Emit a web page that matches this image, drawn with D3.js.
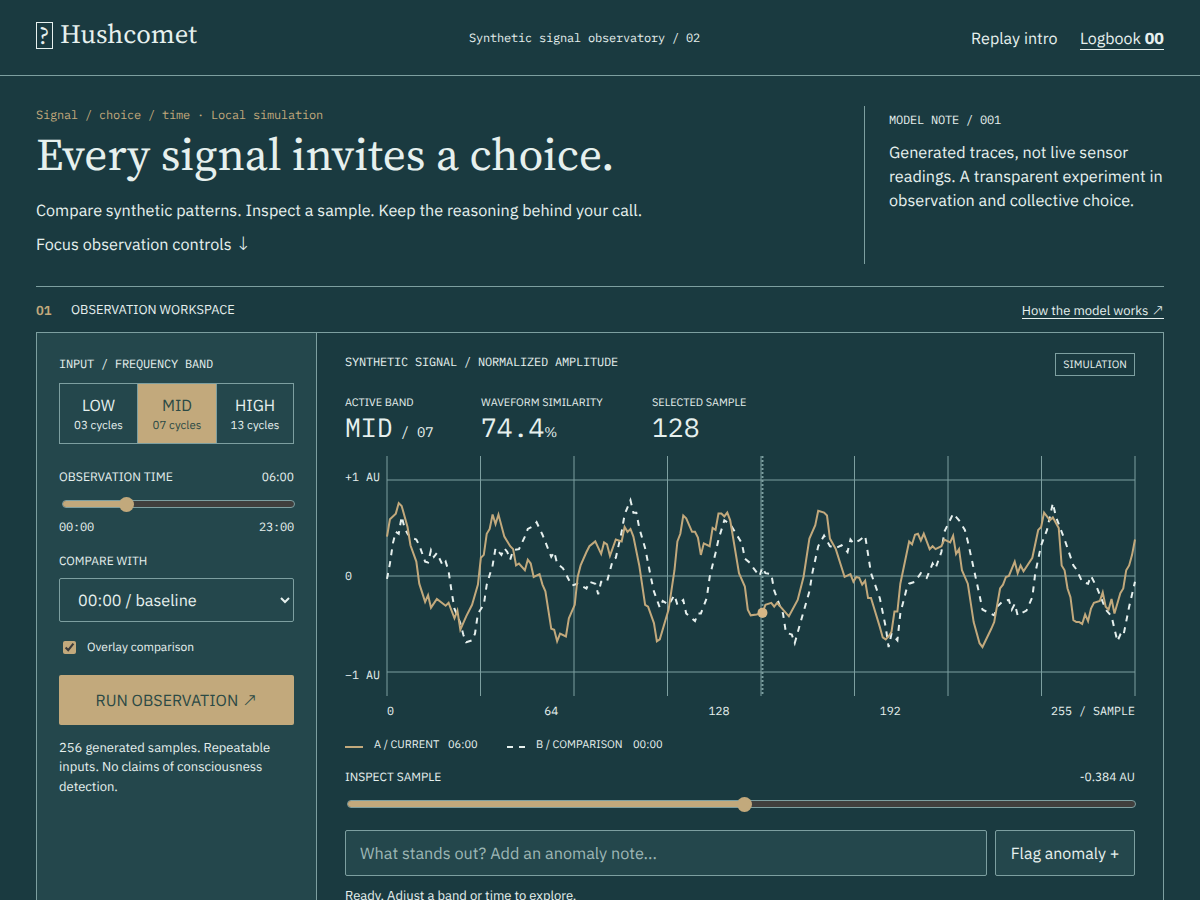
<!DOCTYPE html>
<html>
<head>
<meta charset="utf-8">
<title>Hushcomet</title>
<script src="https://cdn.jsdelivr.net/npm/d3@7"></script>
<style>
  * { box-sizing: border-box; }
  html, body { margin: 0; height: 900px; overflow: hidden; background: #1a3a40; }
  body { position: relative; color: #e6f0ee; font-family: "IBM Plex Sans", "Noto Sans", sans-serif; text-rendering: geometricPrecision; }
  .t { position: absolute; white-space: nowrap; line-height: 1; margin-top: 1px; }
  .mono { font-family: "IBM Plex Mono", "Liberation Mono", monospace; font-size: 12px; letter-spacing: -0.2px; }
  .serif { font-family: "Source Serif 4", "Liberation Serif", serif; }
  .arrow { font-family: "DejaVu Sans", sans-serif; font-weight: 300; font-size: 1.15em; line-height: 0; }
  .rule { position: absolute; background: #7d9fa0; }
  .box { position: absolute; border: 1px solid #7d9fa0; }
  .center { display: flex; flex-direction: column; align-items: center; justify-content: center; }
  .shift { padding-top: 2px; }
  #plot, #xlabels, #ylabels { position: absolute; }
  #xlabels { left: 387px; top: 706px; width: 748px; display: flex; justify-content: space-between; }
  #ylabels { left: 345px; top: 472px; height: 210px; display: flex; flex-direction: column; justify-content: space-between; }
  #xlabels span, #ylabels span { font: 11.67px/12px "IBM Plex Mono", "Liberation Mono", monospace; color: #e6f0ee; white-space: nowrap; }
  .track { position: absolute; height: 8px; border: 1px solid #7d9fa0; border-radius: 4px; background: #403f3d; overflow: hidden; }
  .track div { height: 100%; background: #c2a97c; }
  .thumb { position: absolute; border-radius: 50%; background: #c2a97c; }
  select { position: absolute; left: 59px; top: 578px; width: 235px; height: 44px; padding: 1px 14px 0; border: 1px solid #7d9fa0; border-radius: 2px;
    background: #24474c; color: #e6f0ee; font: 16.2px "IBM Plex Sans", "Noto Sans", sans-serif; text-rendering: geometricPrecision; }
  input[type=checkbox] { position: absolute; left: 63px; top: 641px; width: 13px; height: 13px; margin: 0; accent-color: #c2a97c; }
  input[type=text] { position: absolute; left: 345px; top: 830px; width: 642px; height: 46px; padding: 0 14px; border: 1px solid #7d9fa0; border-radius: 2px;
    background: #24474c; color: #e6f0ee; font: 16.25px "IBM Plex Sans", "Noto Sans", sans-serif; text-rendering: geometricPrecision; }
  input[type=text]::placeholder { color: #9db6b5; opacity: 1; }
</style>
</head>
<body>

<!-- header -->
<div class="t" style="left:36px;top:21px;width:17px;height:27px;border:1.5px solid #e6f0ee"></div>
<div class="t serif" style="left:39px;top:23px;font-size:25px">?</div>
<div class="t serif" style="left:60px;top:20px;font-size:26.6px">Hushcomet</div>
<div class="t mono" style="left:469px;top:32px">Synthetic signal observatory / 02</div>
<div class="t" style="left:971px;top:30px;font-size:16.1px">Replay intro</div>
<div class="t" style="left:1080px;top:30px;font-size:16px;padding-bottom:2px;border-bottom:1px solid #e6f0ee">Logbook <b>00</b></div>
<div class="rule" style="left:0;top:75px;width:1200px;height:1px"></div>

<!-- intro -->
<div class="t mono" style="left:36px;top:109px;color:#c2a97c">Signal / choice / time · Local simulation</div>
<div class="t serif" style="left:36px;top:132px;font-size:45.3px">Every signal invites a choice.</div>
<div class="t" style="left:36px;top:202px;font-size:16.2px">Compare synthetic patterns. Inspect a sample. Keep the reasoning behind your call.</div>
<div class="t" style="left:36px;top:236px;font-size:16.2px">Focus observation controls <span class="arrow">↓</span></div>
<div class="rule" style="left:864px;top:106px;width:1px;height:158px"></div>
<div class="t mono" style="left:889px;top:114px">MODEL NOTE / 001</div>
<div class="t" style="left:889px;top:144px;font-size:16.2px">Generated traces, not live sensor</div>
<div class="t" style="left:889px;top:168px;font-size:16.2px">readings. A transparent experiment in</div>
<div class="t" style="left:889px;top:192px;font-size:16.2px">observation and collective choice.</div>
<div class="rule" style="left:36px;top:286px;width:1128px;height:1px"></div>

<!-- workspace title -->
<div class="t" style="left:36px;top:303px;font-size:13px;font-weight:600;color:#c2a97c">01</div>
<div class="t" style="left:71px;top:303px;font-size:12.85px">OBSERVATION WORKSPACE</div>
<div class="t" style="right:36px;top:303px;font-size:13px;padding-bottom:1px;border-bottom:1px solid #e6f0ee">How the model works <span class="arrow">↗</span></div>

<!-- workspace frame and left panel -->
<div class="box" style="left:36px;top:332px;width:1128px;height:600px"></div>
<div class="box" style="left:36px;top:332px;width:281px;height:600px;background:#24474c"></div>

<div class="t mono" style="left:59px;top:358px">INPUT / FREQUENCY BAND</div>
<div class="box center shift" style="left:59px;top:383px;width:79px;height:61px"><span style="font-size:16px">LOW</span><span style="font-size:11.5px;margin-top:2px">03 cycles</span></div>
<div class="box center shift" style="left:137px;top:383px;width:80px;height:61px;background:#c2a97c;color:#2c4a45"><span style="font-size:16px">MID</span><span style="font-size:11.5px;margin-top:2px">07 cycles</span></div>
<div class="box center shift" style="left:216px;top:383px;width:78px;height:61px"><span style="font-size:16px">HIGH</span><span style="font-size:11.5px;margin-top:2px">13 cycles</span></div>

<div class="t" style="left:59px;top:470px;font-size:12.3px">OBSERVATION TIME</div>
<div class="t" style="right:906px;top:471px;font-size:12px">06:00</div>
<div class="track" style="left:62px;top:500px;width:233px"><div id="timeFill"></div></div>
<div class="thumb" id="timeThumb" style="top:496.5px;width:15px;height:15px"></div>
<div class="t mono" style="left:59px;top:521px">00:00</div>
<div class="t mono" style="right:906px;top:521px">23:00</div>

<div class="t" style="left:59px;top:555px;font-size:12px">COMPARE WITH</div>
<select><option>00:00 / baseline</option></select>
<input type="checkbox" checked>
<div class="t" style="left:87px;top:641px;font-size:12px">Overlay comparison</div>
<div class="box center shift" style="left:59px;top:675px;width:235px;height:50px;background:#c2a97c;border:0;border-radius:2px;color:#2c4a45;font-size:16px"><span>RUN OBSERVATION <span class="arrow">↗</span></span></div>
<div class="t" style="left:59px;top:740px;font-size:13px">256 generated samples. Repeatable</div>
<div class="t" style="left:59px;top:759px;font-size:13px">inputs. No claims of consciousness</div>
<div class="t" style="left:59px;top:779px;font-size:13px">detection.</div>

<!-- chart header -->
<div class="t mono" style="left:345px;top:356px">SYNTHETIC SIGNAL / NORMALIZED AMPLITUDE</div>
<div class="box center" style="left:1055px;top:353px;width:80px;height:23px;font-size:10.7px;padding-bottom:1px">SIMULATION</div>
<div class="t" style="left:345px;top:396px;font-size:10.9px">ACTIVE BAND</div>
<div class="t" style="left:481px;top:396px;font-size:10.9px">WAVEFORM SIMILARITY</div>
<div class="t" style="left:652px;top:396px;font-size:10.9px">SELECTED SAMPLE</div>
<div class="t mono" style="left:345px;top:414px;font-size:26.4px;letter-spacing:0">MID<span style="font-size:14px;letter-spacing:-0.2px"> / 07</span></div>
<div class="t mono" style="left:481px;top:414px;font-size:26.4px;letter-spacing:0">74.4<span style="font-size:14px;font-family:'IBM Plex Sans'">%</span></div>
<div class="t mono" style="left:652px;top:414px;font-size:26.4px;letter-spacing:0">128</div>

<div id="ylabels"></div>
<div id="xlabels"></div>
<svg id="plot" width="760" height="260" style="left:380px;top:446px"></svg>

<!-- legend -->
<svg id="legend" width="200" height="10" style="position:absolute;left:345px;top:742px"></svg>
<div class="t" style="left:374px;top:739px;font-size:11px">A / CURRENT</div>
<div class="t" style="left:448px;top:739px;font-size:11px">06:00</div>
<div class="t" style="left:536px;top:739px;font-size:11px">B / COMPARISON</div>
<div class="t" style="left:633px;top:739px;font-size:11px">00:00</div>

<!-- inspect -->
<div class="t" style="left:345px;top:771px;font-size:12px">INSPECT SAMPLE</div>
<div class="t" style="right:65px;top:771px;font-size:12px">-0.384 AU</div>
<div class="track" style="left:347px;top:800px;width:789px"><div id="sampleFill"></div></div>
<div class="thumb" id="sampleThumb" style="top:796.5px;width:15px;height:15px"></div>
<input type="text" placeholder="What stands out? Add an anomaly note...">
<div class="box center shift" style="left:995px;top:830px;width:140px;height:46px;background:#24474c;border-radius:2px;font-size:16px">Flag anomaly +</div>
<div class="t" style="left:345px;top:888px;font-size:13px">Ready. Adjust a band or time to explore.</div>

<script>
'use strict';

// values: sample index and amplitude of each vertex
const samplesA = [0,1,3,4,5,7,8,10,11,13,14,15,17,20,21,23,24,25,27,29,31,32,33,34,35,36,37,38,40,42,43,44,45,47,48,49,50,52,53,54,56,57,58,59,61,62,64,65,66,68,69,71,73,74,75,76,78,80,81,82,83,84,86,88,89,91,92,93,96,98,99,100,101,102,104,105,106,107,108,110,111,112,113,114,115,116,117,120,122,123,124,126,128,129,131,132,133,135,137,140,142,144,146,147,149,150,151,153,156,158,159,160,161,162,163,164,165,168,169,170,171,172,173,174,175,178,179,180,181,182,183,185,186,187,189,190,192,193,194,195,196,198,200,202,203,206,207,209,210,211,212,214,215,216,217,220,222,223,224,226,227,229,230,231,232,233,234,235,236,237,238,239,240,241,243,244,245,246,247,248,250,251,252,253,254,255];
const valuesA = [.41,.59,.65,.76,.73,.51,.32,.15,-.08,-.27,-.20,-.33,-.24,-.31,-.28,-.44,-.36,-.56,-.42,-.30,-.09,.19,.22,.44,.49,.64,.54,.64,.41,.31,.28,.11,.13,.06,.17,.13,-.01,.02,-.09,-.16,-.55,-.56,-.68,-.60,-.63,-.44,-.30,-.01,.11,.25,.31,.36,.23,.35,.33,.21,.38,.36,.51,.46,.49,.41,.11,-.30,-.32,-.49,-.68,-.66,-.35,.06,.36,.44,.63,.60,.46,.46,.40,.22,.34,.31,.50,.48,.65,.65,.62,.66,.58,.03,-.11,-.35,-.41,-.40,-.384,-.30,-.28,-.32,-.28,-.35,-.42,-.25,-.01,.39,.53,.68,.66,.63,.39,.28,-.01,.02,-.06,-.01,-.02,-.09,-.05,-.23,-.23,-.53,-.64,-.66,-.63,-.58,-.37,-.37,-.08,.36,.33,.43,.44,.37,.44,.28,.31,.28,.31,.38,.35,.42,.23,.28,.06,-.08,-.48,-.70,-.74,-.55,-.48,-.13,-.09,-.01,.00,.15,.03,.11,.05,.19,.48,.51,.66,.58,.61,.50,.11,.06,-.13,-.22,-.46,-.48,-.48,-.50,-.40,-.47,-.34,-.28,-.26,-.17,-.32,-.35,-.24,-.39,-.18,-.13,.06,.11,.22,.38];

const samplesB = [0,1,2,3,4,5,6,7,8,10,11,13,14,15,16,17,19,20,21,22,23,25,26,27,29,30,31,33,34,36,37,39,40,41,42,43,45,47,48,50,51,53,56,57,58,60,63,65,68,69,71,72,73,75,77,78,80,81,83,84,85,86,88,90,91,93,94,96,98,99,101,102,105,106,107,109,110,112,113,115,117,119,121,122,124,125,127,128,129,131,132,134,135,136,138,139,141,144,145,147,149,151,153,155,157,158,159,161,163,165,168,170,171,172,174,175,177,178,180,182,184,186,187,189,190,193,195,197,198,200,202,203,205,207,208,210,212,213,214,215,218,220,221,223,225,227,228,231,234,235,237,239,240,242,244,245,247,249,250,251,253,255];
const valuesB = [-.03,.13,.34,.46,.44,.62,.50,.44,.40,.38,.32,.15,.14,.27,.20,.24,.11,.15,.05,-.16,-.34,-.49,-.61,-.69,-.67,-.60,-.39,-.30,-.09,.11,.29,.22,.29,.25,.17,.27,.28,.41,.49,.52,.56,.43,.20,.25,.13,.08,-.10,-.08,-.13,-.06,-.08,-.19,-.06,-.06,.17,.19,.46,.64,.79,.66,.66,.50,.29,-.02,-.16,-.33,-.26,-.30,-.20,-.30,-.25,-.39,-.47,-.39,-.39,-.23,-.01,.24,.38,.58,.54,.44,.34,.18,.13,.08,.00,.09,.03,.02,-.15,-.32,-.39,-.59,-.61,-.70,-.48,-.16,.03,.31,.42,.31,.29,.32,.25,.38,.34,.37,.42,.03,-.23,-.53,-.74,-.60,-.67,-.39,-.15,-.08,-.06,.03,-.02,.13,.08,.25,.46,.65,.58,.48,.36,.08,-.20,-.35,-.38,-.41,-.32,-.26,-.25,-.35,-.29,-.41,-.36,-.22,.03,.32,.48,.76,.62,.38,.11,.07,-.06,-.08,.00,-.12,-.27,-.35,-.42,-.68,-.61,-.63,-.32,-.06];

const xGridTicks = [0, 31.875, 63.75, 95.625, 127.5, 159.375, 191.25, 223.125, 255];
const yGridTicks = [1, 0, -1];
const xTickLabels = ['0', '64', '128', '192', '255 / SAMPLE'];
const yTickLabels = ['+1 AU', '0', '−1 AU'];

const selectedSample = 128;
const selectedValue = -0.384;
const observationHour = 6;
const lastHour = 23;
const lastSample = 255;

const gold = '#c2a97c';
const ink = '#e6f0ee';
const gridColor = '#7d9fa0';

const svgContainer = d3.select('#plot');

// plot area sits at 387..1135 x 456..696 on the page
const margin = { left: 7, top: 10 };
const width = 748;
const height = 240;

const xScale = d3.scaleLinear().domain([0, lastSample]).range([0, width]);
const yScale = d3.scaleLinear().domain([-1.25, 1.25]).range([height, 0]);

const plot = svgContainer.append('g')
  .attr('transform', `translate(${margin.left}, ${margin.top})`);

// grid comes from the axes, with the tick lines stretched across the plot
const xAxis = d3.axisBottom(xScale).tickValues(xGridTicks).tickSize(height).tickFormat('').offset(0);
const yAxis = d3.axisLeft(yScale).tickValues(yGridTicks).tickSize(-width).tickFormat('').offset(0);

plot.append('g').call(xAxis).call(g => g.select('.domain').remove());
plot.append('g').call(yAxis).call(g => g.select('.domain').remove());
plot.selectAll('.tick line').attr('stroke', gridColor).attr('stroke-width', 1);

const line = d3.line().x(d => xScale(d[0])).y(d => yScale(d[1]));

plot.append('path')
  .attr('d', line(d3.zip(samplesB, valuesB)))
  .attr('fill', 'none')
  .attr('stroke', ink)
  .attr('stroke-width', 2)
  .attr('stroke-dasharray', '6 6');

plot.append('path')
  .attr('d', line(d3.zip(samplesA, valuesA)))
  .attr('fill', 'none')
  .attr('stroke', gold)
  .attr('stroke-width', 2);

// inspected sample
plot.append('line')
  .attr('x1', xScale(selectedSample))
  .attr('x2', xScale(selectedSample))
  .attr('y1', 0)
  .attr('y2', height)
  .attr('stroke', gridColor)
  .attr('stroke-width', 2)
  .attr('stroke-dasharray', '2 2');

plot.append('circle')
  .attr('cx', xScale(selectedSample))
  .attr('cy', yScale(selectedValue))
  .attr('r', 5)
  .attr('fill', '#d6b685');

// axis labels are spread by flexbox, not placed on the grid
d3.select('#xlabels').selectAll('span').data(xTickLabels).enter().append('span').text(d => d);
d3.select('#ylabels').selectAll('span').data(yTickLabels).enter().append('span').text(d => d);

// legend swatches
const legend = d3.select('#legend');
legend.append('line').attr('x1', 0).attr('x2', 18).attr('y1', 5).attr('y2', 5)
  .attr('stroke', gold).attr('stroke-width', 2);
legend.append('line').attr('x1', 162).attr('x2', 180).attr('y1', 5).attr('y2', 5)
  .attr('stroke', ink).attr('stroke-width', 2).attr('stroke-dasharray', '6 6');

// sliders
const timeScale = d3.scaleLinear().domain([0, lastHour]).range([69, 288]);
const sampleScale = d3.scaleLinear().domain([0, lastSample]).range([355.5, 1129.5]);

d3.select('#timeThumb').style('left', (timeScale(observationHour) - 7.5) + 'px');
d3.select('#timeFill').style('width', (timeScale(observationHour) - 62) + 'px');
d3.select('#sampleThumb').style('left', (sampleScale(selectedSample) - 7.5) + 'px');
d3.select('#sampleFill').style('width', (sampleScale(selectedSample) - 347) + 'px');
</script>
</body>
</html>
